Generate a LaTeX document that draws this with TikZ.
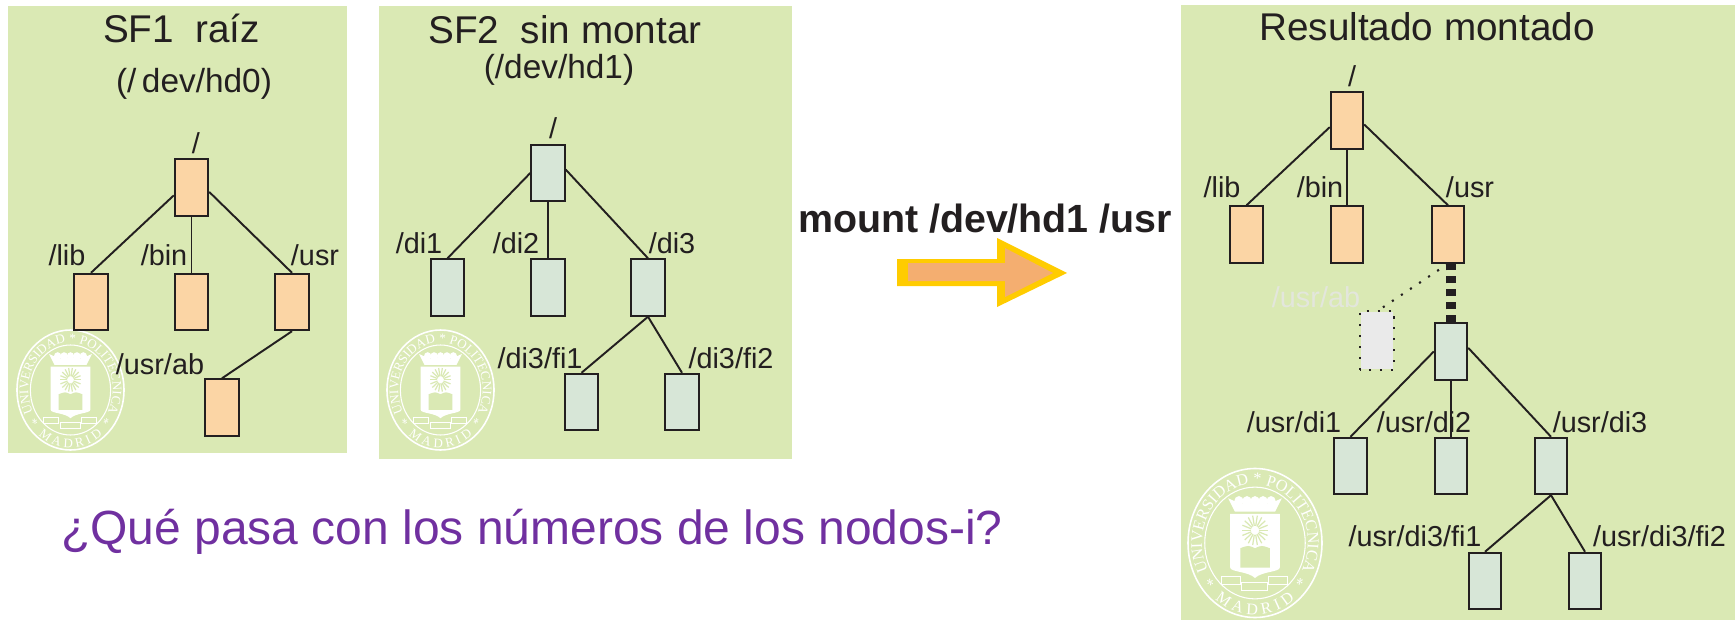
\documentclass[tikz,border=0pt]{standalone}
\usepackage{fontspec}
\usepackage{tikz}
\usetikzlibrary{decorations.text}
\setmainfont{Liberation Sans}
\newfontfamily\sealserif{Liberation Serif}
\definecolor{panelgreen}{HTML}{DAE9B4}
\definecolor{nodeorange}{HTML}{FBD5A5}
\definecolor{nodegreen}{HTML}{D7E6D7}
\definecolor{inkdark}{HTML}{231F20}
\definecolor{ghostgray}{HTML}{EAEAEA}
\definecolor{ghosttext}{HTML}{E3E6DC}
\definecolor{questionpurple}{HTML}{7030A0}
\definecolor{arrowyellow}{HTML}{FFCC00}
\definecolor{arrowfill}{HTML}{F4AE70}

\newcommand{\sealmark}[5]{
\begin{scope}[shift={(#1,#2)},x=#3*0.2mm,y=#4*0.2mm]
  \def\sealsize{\sealserif\fontsize{#5}{#5}\selectfont}
  \draw[white,line width=0.9pt] (0,0) ellipse [x radius=1,y radius=1];
  \draw[white,line width=0.6pt] (0,0) ellipse [x radius=0.75,y radius=0.75];
  \path[decorate,decoration={text along path,text color=white,text align=fit to path,text={|\sealsize|UNIVERSIDAD * POLITECNICA}}]
    (208:0.79) arc [start angle=208,end angle=-28,x radius=0.79,y radius=0.79];
  \path[decorate,decoration={text along path,text color=white,text align=fit to path,text={|\sealsize|* MADRID *}}]
    (214:0.96) arc [start angle=214,end angle=326,x radius=0.96,y radius=0.96];
  \fill[white] (-0.37,0.39) -- (0.37,0.39) -- (0.37,-0.33) .. controls (0.37,-0.39) and (0.1,-0.38) .. (0,-0.47) .. controls (-0.1,-0.38) and (-0.37,-0.39) .. (-0.37,-0.33) -- cycle;
  \fill[white] (-0.4,0.6) -- (-0.3,0.42) -- (0.3,0.42) -- (0.4,0.6) -- (0.2,0.52) -- (0,0.54) -- (-0.2,0.52) -- cycle;
  \foreach \k in {-0.24,-0.12,0,0.12,0.24}
    { \fill[white] (\k,0.56) ellipse [x radius=0.07,y radius=0.07]; }
  \foreach \a in {0,20,...,340}
    { \draw[panelgreen,line width=0.7pt] (0,0.17) ++(\a:0.06) -- ++(\a:0.14); }
  \fill[panelgreen] (-0.22,-0.07) .. controls (-0.1,-0.03) .. (0,-0.07) .. controls (0.1,-0.03) .. (0.22,-0.07) -- (0.22,-0.33) -- (-0.22,-0.33) -- cycle;
  \draw[white,line width=0.3pt] (-0.5,-0.45) rectangle (-0.22,-0.56);
  \draw[white,line width=0.3pt] (0.2,-0.45) rectangle (0.48,-0.56);
  \draw[white,line width=0.3pt] (-0.2,-0.53) rectangle (0.18,-0.63);
\end{scope}
}

\begin{document}
\begin{tikzpicture}[x=0.2mm,y=0.2mm,
  every node/.style = {anchor = base, inner sep = 0pt, text = inkdark},
  big label/.style = {font = \fontsize{22}{26}\selectfont},
  dev label/.style = {font = \fontsize{19}{23}\selectfont},
  small label/.style = {font = \fontsize{16.4}{20}\selectfont},
  wide box/.style = {anchor = center, draw = inkdark, line width = 1.1pt, minimum width = 6.7mm, minimum height = 11.3mm},
  narrow box/.style = {anchor = center, draw = inkdark, line width = 1.1pt, minimum width = 6.5mm, minimum height = 11.3mm},
  orange box/.style = {fill = nodeorange},
  green box/.style = {fill = nodegreen},
  tree edge/.style = {-, line width = 1.1pt, inkdark},
  dot line/.style = {inkdark, line width = 1.2pt, dash pattern = on 1.2pt off 5pt}]
\useasboundingbox (0,0) rectangle (1735,-620);

\fill[panelgreen] (8,-6) rectangle (347,-453);
\fill[panelgreen] (379,-6) rectangle (792,-459);
\fill[panelgreen] (1181,-5) rectangle (1735,-620);

\sealmark{70.5}{-390}{53.5}{60}{7.4}
\sealmark{440.5}{-390}{53.5}{60}{7.4}
\sealmark{1255}{-543}{67}{74.5}{9.2}

\node[big label](A;title) at (181.5,-42) {SF1~~raíz};
\node[dev label](A;dev) at (194,-92) {(/\,dev/hd0)};
\node[wide box, orange box](A0;0) at (191.5,-187.5) {};
\node[wide box, orange box](A1;-1) at (91,-302) {};
\node[wide box, orange box](A1;0) at (191.5,-302) {};
\node[wide box, orange box](A1;1) at (292,-302) {};
\node[wide box, orange box](A2;0) at (222,-407.5) {};
\node[small label](A0;0;t) at (196,-153) {/};
\node[small label](A1;-1;t) at (67,-265) {/lib};
\node[small label](A1;0;t) at (164,-265) {/bin};
\node[small label](A1;1;t) at (315,-265) {/usr};
\node[small label](A2;0;t) at (160,-374) {/usr/ab};

\node[big label](B;title) at (565,-43) {SF2~~sin montar};
\node[dev label](B;dev) at (559,-78) {(/dev/hd1)};
\node[wide box, green box](B0;0) at (548,-173) {};
\node[wide box, green box](B1;-1) at (447.5,-287.5) {};
\node[wide box, green box](B1;0) at (548,-287.5) {};
\node[wide box, green box](B1;1) at (648,-287.5) {};
\node[wide box, green box](B2;-1) at (581.5,-402) {};
\node[wide box, green box](B2;1) at (682,-402) {};
\node[small label](B0;0;t) at (553,-138) {/};
\node[small label](B1;-1;t) at (419,-253) {/di1};
\node[small label](B1;0;t) at (516,-253) {/di2};
\node[small label](B1;1;t) at (672,-253) {/di3};
\node[small label](B2;-1;t) at (540,-368) {/di3/fi1};
\node[small label](B2;1;t) at (731,-368) {/di3/fi2};

\node[big label](C;title) at (1427,-40.5) {Resultado montado};
\node[narrow box, orange box](C0;0) at (1347,-120.5) {};
\node[narrow box, orange box](C1;-1) at (1246.5,-234.5) {};
\node[narrow box, orange box](C1;0) at (1347,-234.5) {};
\node[narrow box, orange box](C1;1) at (1448,-234.5) {};
\node[narrow box, draw = none, fill = ghostgray](C2;-1) at (1377,-340.5) {};
\node[narrow box, green box](C2;0) at (1451,-351.5) {};
\node[narrow box, green box](C3;-1) at (1350.5,-466) {};
\node[narrow box, green box](C3;0) at (1451,-466) {};
\node[narrow box, green box](C3;1) at (1551,-466) {};
\node[narrow box, green box](C4;-1) at (1485,-581) {};
\node[narrow box, green box](C4;1) at (1585,-581) {};
\node[small label](C0;0;t) at (1352,-86) {/};
\node[small label](C1;-1;t) at (1222,-197.5) {/lib};
\node[small label](C1;0;t) at (1320,-197.5) {/bin};
\node[small label](C1;1;t) at (1470,-197.5) {/usr};
\node[small label, text = ghosttext](C2;-1;t) at (1316,-307.5) {/usr/ab};
\node[small label](C3;-1;t) at (1294,-432) {/usr/di1};
\node[small label](C3;0;t) at (1424,-432) {/usr/di2};
\node[small label](C3;1;t) at (1600,-432) {/usr/di3};
\node[small label](C4;-1;t) at (1415,-546.5) {/usr/di3/fi1};
\node[small label](C4;1;t) at (1659.5,-546.5) {/usr/di3/fi2};

\foreach \p/\l/\r/\n in {A0/204/-14/A1,B0/180/11/B1,C0/201/-13/C1,C2/180/12/C3}
  { \draw[tree edge] (\p;0.\l) -- (\n;-1.north);
    \draw[tree edge] (\p;0.south) -- (\n;0.north);
    \draw[tree edge] (\p;0.\r) -- (\n;1.north); }
\draw[tree edge] (A1;1.south) -- (A2;0.north);
\foreach \p/\n in {B1/B2,C3/C4}
  { \foreach \j in {-1,1}
    { \draw[tree edge] (\p;1.south) -- (\n;\j.north); } }

\draw[dot line] (C2;-1.south west) rectangle (C2;-1.north east);
\draw[dot line] (C1;1.south) -- (C2;-1.north);
\draw[inkdark, line width = 5.7pt, dash pattern = on 4pt off 3.4pt] (C2;0.north) -- (C2;0.north |- C1;1.south);

\node[font = \fontsize{22.4}{26}\selectfont\bfseries](mount) at (985,-232) {mount /dev/hd1 /usr};
\fill[arrowyellow] (897,-259) -- (997,-259) -- (997,-238) -- (1067,-273) -- (997,-307) -- (997,-286) -- (897,-286) -- cycle;
\fill[arrowfill] (908,-263) -- (1005,-263) -- (1005,-248) -- (1053,-273) -- (1005,-297) -- (1005,-281) -- (908,-281) -- cycle;

\node[font = \fontsize{27.3}{32}\selectfont, text = questionpurple](question) at (532,-544) {¿Qué pasa con los números de los nodos-i?};
\end{tikzpicture}
\end{document}
